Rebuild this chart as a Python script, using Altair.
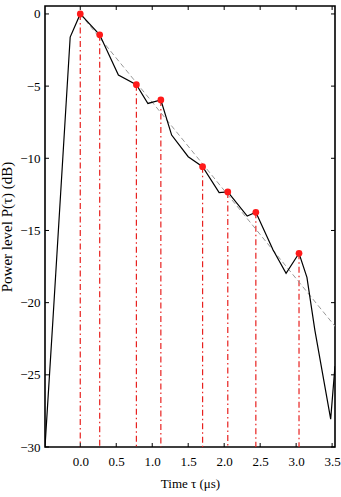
import altair as alt
import pandas as pd

# Measured power delay profile (black line)
line_tau = [-0.49, -0.38, -0.14, 0.0, 0.27, 0.53, 0.78, 0.94, 1.12, 1.27, 1.50, 1.70,
            1.93, 2.05, 2.32, 2.44, 2.68, 2.86, 3.04, 3.15, 3.26, 3.48, 3.54]
line_p = [-30.0, -21.2, -1.6, 0.0, -1.45, -4.23, -4.9, -6.2, -5.96, -8.39, -9.89, -10.58,
          -12.38, -12.33, -14.0, -13.74, -16.35, -17.97, -16.58, -18.25, -21.9, -28.07, -24.4]

# Resolved paths (red points)
peak_tau = [0.0, 0.27, 0.78, 1.12, 1.70, 2.05, 2.44, 3.04]
peak_p = [0.0, -1.45, -4.9, -5.96, -10.58, -12.33, -13.74, -16.58]

# Linear fit (gray dashed)
fit_tau = [0.0, 3.6]
fit_p = [0.0, -22.0]

x_ticks = [0.0, 0.5, 1.0, 1.5, 2.0, 2.5, 3.0, 3.5]
y_ticks = [-30, -25, -20, -15, -10, -5, 0]

X_DOMAIN = [-0.49, 3.54]
Y_DOMAIN = [-30, 0.55]
W, H = 290, 441
FONT = "Liberation Serif"

line_df = pd.DataFrame({"tau": line_tau, "p": line_p})
peak_df = pd.DataFrame({"tau": peak_tau, "p": peak_p})
fit_df = pd.DataFrame({"tau": fit_tau, "p": fit_p})
xt_df = pd.DataFrame({"tau": x_ticks})
yt_df = pd.DataFrame({"p": y_ticks})

xs = alt.Scale(domain=X_DOMAIN, nice=False, zero=False)
ys = alt.Scale(domain=Y_DOMAIN, nice=False, zero=False)

x_axis = alt.Axis(values=x_ticks, format=".1f", title="Time τ (μs)", grid=False,
                  ticks=False, domain=False, labelFont=FONT, labelFontSize=13,
                  titleFont=FONT, titleFontSize=13, titleFontWeight="normal",
                  labelColor="black", titleColor="black", labelPadding=8, titlePadding=9)
y_axis = alt.Axis(values=y_ticks, title="Power level P(τ) (dB)", grid=False,
                  ticks=False, domain=False, labelFont=FONT, labelFontSize=13,
                  labelExpr="replace(datum.label, '-', '−')",
                  titleFont=FONT, titleFontSize=15, titleFontWeight="normal",
                  labelColor="black", titleColor="black", labelPadding=5, titlePadding=5)

X = alt.X("tau:Q", scale=xs, axis=x_axis)
Y = alt.Y("p:Q", scale=ys, axis=y_axis)

drops = alt.Chart(peak_df).mark_rule(color="#e8211f", strokeWidth=1.2,
                                     strokeDash=[6, 3, 1.5, 3]).encode(
    x=X, y=Y, y2=alt.datum(-30))

fit = alt.Chart(fit_df).mark_line(color="#999999", strokeWidth=1, strokeDash=[5, 3],
                                  clip=True).encode(x=X, y=Y)

line = alt.Chart(line_df).mark_line(color="black", strokeWidth=1.2, clip=True).encode(
    x=X, y=Y)

pts = alt.Chart(peak_df).mark_circle(color="#ff1a1a", opacity=1, size=45).encode(x=X, y=Y)

tick_bottom = alt.Chart(xt_df).mark_rule(color="black", strokeWidth=1).encode(
    x=X, y=alt.value(H), y2=alt.value(H - 4))
tick_top = alt.Chart(xt_df).mark_rule(color="black", strokeWidth=1).encode(
    x=X, y=alt.value(0), y2=alt.value(4))
tick_left = alt.Chart(yt_df).mark_rule(color="black", strokeWidth=1).encode(
    y=Y, x=alt.value(0), x2=alt.value(4))
tick_right = alt.Chart(yt_df).mark_rule(color="black", strokeWidth=1).encode(
    y=Y, x=alt.value(W), x2=alt.value(W - 4))

chart = alt.layer(drops, fit, line, pts, tick_bottom, tick_top, tick_left, tick_right).properties(
    width=W, height=H,
    background="white",
    autosize=alt.AutoSizeParams(type="none"),
    padding={"left": 45, "top": 6, "right": 6, "bottom": 50},
).configure_view(stroke="#000000", strokeWidth=1.6, strokeOpacity=1)

chart.save("out.html", embed_options={"renderer": "svg", "actions": False})
